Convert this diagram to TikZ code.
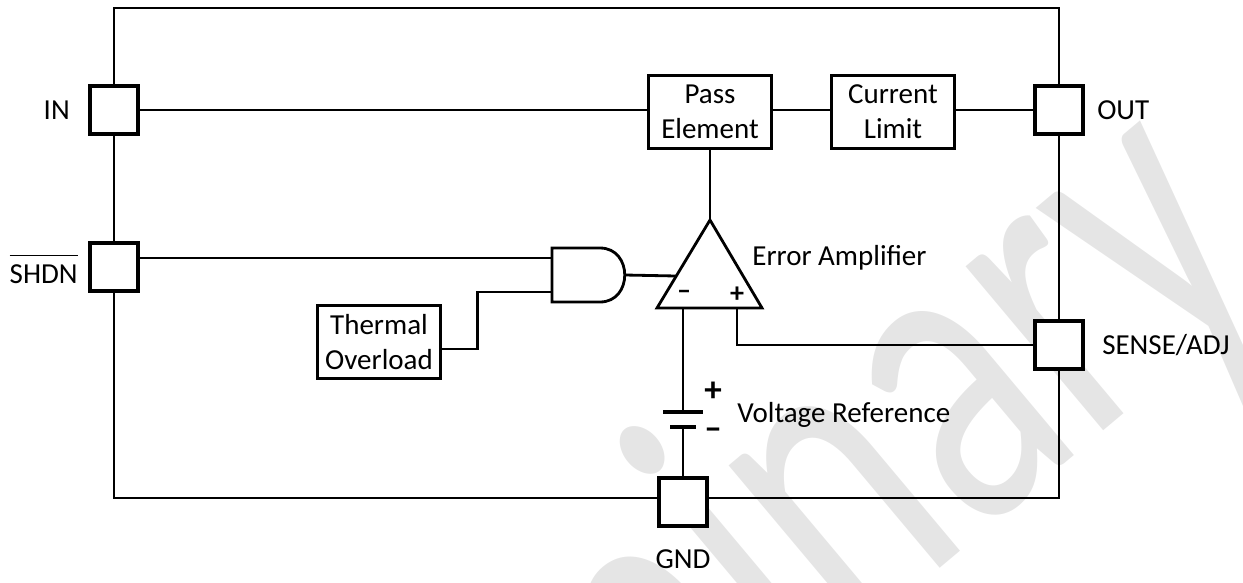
\documentclass[tikz,border=0pt]{standalone}
\usepackage{fontspec}
\setmainfont{Carlito}
\usetikzlibrary{positioning}

\tikzset{
  wire/.style={line width=1.6pt},
  pin/.style={draw, fill=white, line width=2.2pt, minimum width=0.96cm, minimum height=0.96cm, inner sep=0pt},
  block/.style={draw, fill=white, line width=2.2pt, minimum width=2.46cm, minimum height=1.46cm, align=center, inner sep=1pt},
  lbl/.style={inner sep=0pt},
  sign/.style={inner sep=0pt, font=\bfseries\fontsize{16}{16}\selectfont}
}

\begin{document}
\begin{tikzpicture}[
    x=0.02cm, y=-0.02cm,
    line join=miter,
    every node/.style={font=\fontsize{16.5}{20}\selectfont}
]
\useasboundingbox (0,0) rectangle (1243,582);

% watermark
\begin{scope}
  \clip (0,0) rectangle (1243,582);
  \begin{scope}[shift={(1280,283)}, rotate=40, yscale=1.45]
    \node[transform shape, text=black!10, anchor=base east, inner sep=0pt,
          font=\fontsize{176}{176}\selectfont] (mark) at (0,0) {Preliminary};
  \end{scope}
\end{scope}

% pins
\node[pin] (pinIN)   at (114,110) {};
\node[pin] (pinSHDN) at (114,267) {};
\node[pin] (pinOUT)  at (1059,110) {};
\node[pin] (pinSNS)  at (1059,345) {};
\node[pin] (pinGND)  at (683,502) {};

\node[lbl, left=0.36cm of pinIN] {IN};
\node[lbl, anchor=base east] at (78,283) {$\overline{\mbox{SHDN}\rule{0pt}{0.88em}}$};
\node[lbl, right=0.24cm of pinOUT] {OUT};
\node[lbl, right=0.34cm of pinSNS] {SENSE/ADJ};
\node[lbl, below=0.42cm of pinGND] {GND};

% frame
\coordinate (frameTop) at (0,8);
\coordinate (frameBot) at (0,498);
\draw[wire] (pinIN.north) -- (pinIN |- frameTop) -- (pinOUT |- frameTop) -- (pinOUT.north);
\draw[wire] (pinIN.south) -- (pinSHDN.north);
\draw[wire] (pinOUT.south) -- (pinSNS.north);
\draw[wire] (pinSHDN.south) -- (pinSHDN |- frameBot) -- (pinGND.west |- frameBot);
\draw[wire] (pinGND.east |- frameBot) -- (pinSNS |- frameBot) -- (pinSNS.south);

% blocks
\node[block] (pass)    at (710,112) {Pass\\Element};
\node[block] (limit)   at (893,112) {Current\\Limit};
\node[block] (thermal) at (379,342) {Thermal\\Overload};

\draw[wire] (pinIN.east) -- (pinIN.east -| pass.west);
\draw[wire] (pass.east |- pinIN) -- (limit.west |- pinIN);
\draw[wire] (limit.east |- pinOUT) -- (pinOUT.west);

% error amplifier
\coordinate (ampTop) at (710,220);
\coordinate (ampL)   at (657,308);
\coordinate (ampR)   at (762,308);
\coordinate (ampIn)  at (676,276);
\coordinate (ampM)   at (683,308);
\coordinate (ampP)   at (737,308);
\draw[wire] (ampTop) -- (ampL) -- (ampR) -- cycle;
\node[sign] at (684,295) {--};
\node[sign] at (737,295) {+};
\node[lbl, anchor=west] at (752,258) {Error Amplifier};

% and gate
\coordinate (andA)   at (552,258);
\coordinate (andB)   at (552,292);
\coordinate (andOut) at (625,275);
\draw[wire] (552,248) -- (600,248) .. controls (633,248) and (633,302) .. (600,302) -- (552,302) -- cycle;

\draw[wire] (pinSHDN.east |- andA) -- (andA);
\draw[wire] ([yshift=-0.14cm]thermal.east) -- ++(35,0) |- (andB);
\draw[wire] (andOut) -- (ampIn);
\draw[wire] (pass.south) -- (ampTop);
\draw[wire] (ampP) |- (pinSNS.west);

% voltage reference
\coordinate (battTop) at (683,412);
\coordinate (battBot) at (683,427);
\draw[wire, line width=2pt] (663,412) -- (703,412);
\draw[wire, line width=2pt] (670,427) -- (696,427);
\draw[wire] (ampM) -- (battTop);
\draw[wire] (battBot) -- (pinGND.north);
\node[sign, font=\bfseries\fontsize{20}{20}\selectfont] at (713,392) {+};
\node[sign, font=\bfseries\fontsize{20}{20}\selectfont] at (713,434) {--};
\node[lbl, anchor=west] at (737,415) {Voltage Reference};
\end{tikzpicture}
\end{document}
